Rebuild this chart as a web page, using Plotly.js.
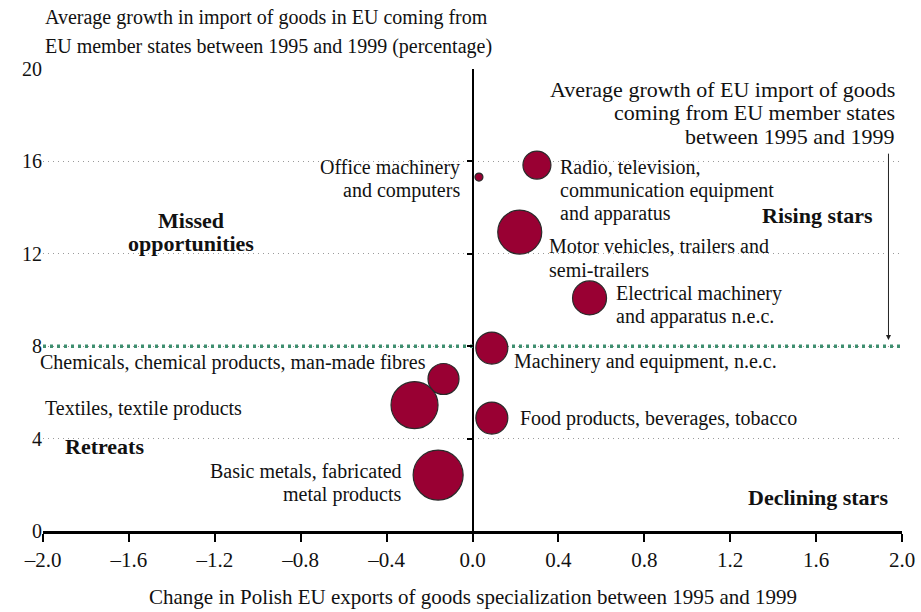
<!DOCTYPE html>
<html><head><meta charset="utf-8">
<script src="https://cdn.plot.ly/plotly-3.0.1.min.js"></script>
<style>html,body{margin:0;padding:0;background:#fff}#chart{width:921px;height:612px}</style>
</head><body><div id="chart"></div>
<script>
// Data
const sectors = ["Office machinery and computers","Radio, television, communication equipment and apparatus","Motor vehicles, trailers and semi-trailers","Electrical machinery and apparatus n.e.c.","Machinery and equipment, n.e.c.","Food products, beverages, tobacco","Chemicals, chemical products, man-made fibres","Textiles, textile products","Basic metals, fabricated metal products"];
const specChange = [0.03, 0.30, 0.22, 0.545, 0.09, 0.09, -0.135, -0.27, -0.16];
const importGrowth = [15.32, 15.84, 12.94, 10.09, 7.92, 4.89, 6.58, 5.45, 2.42];
const bubbleSize = [8, 28, 44, 34, 32, 32, 31, 47, 50];
const avgGrowth = 8;
const xTicks = [-2.0, -1.6, -1.2, -0.8, -0.4, 0.0, 0.4, 0.8, 1.2, 1.6, 2.0];
const yTicks = [0, 4, 8, 12, 16, 20];

const F = "Liberation Serif";
const FS = 20, LH = 23.5;
const fmt = v => (v < 0 ? "\u2013" : "") + Math.abs(v).toFixed(1);

const traces = [
  {x: [xTicks[0], xTicks[xTicks.length-1]], y: [avgGrowth, avgGrowth], mode: "lines",
   line: {color: "#3f8f70", width: 3.5, dash: "3px,4px"}, hoverinfo: "skip", showlegend: false},
  {x: specChange, y: importGrowth, text: sectors, mode: "markers",
   marker: {size: bubbleSize, sizemode: "diameter", color: "#990033", line: {color: "#2a2a2a", width: 1.2}, opacity: 1},
   showlegend: false, hoverinfo: "text"},
  {x: [0], y: [0], yaxis: "y2", mode: "markers", marker: {opacity: 0}, hoverinfo: "skip", showlegend: false}
];

const annotations = [];
function lab(lines, x, y, anchor, isBold, size) {
  const n = lines.length;
  lines.forEach((t, i) => {
    annotations.push({
      text: isBold ? "<b>" + t + "</b>" : t, x, y, xref: "x", yref: "y",
      showarrow: false, xanchor: anchor, yanchor: "middle", align: anchor,
      yshift: ((n - 1) / 2 - i) * LH,
      font: {family: F, size: size || (isBold ? 22 : FS), color: "#111"}
    });
  });
}

lab(["Office machinery", "and computers"], -0.047, 15.24, "right");
lab(["Radio, television,", "communication equipment", "and apparatus"], 0.396, 14.76, "left");
lab(["Motor vehicles, trailers and", "semi-trailers"], 0.345, 11.82, "left");
lab(["Electrical machinery", "and apparatus n.e.c."], 0.657, 9.78, "left");
lab(["Machinery and equipment, n.e.c."], 0.182, 7.32, "left");
lab(["Food products, beverages, tobacco"], 0.21, 4.85, "left");
lab(["Chemicals, chemical products, man-made fibres"], -0.205, 7.3, "right");
lab(["Textiles, textile products"], -2.0, 5.32, "left");
lab(["Basic metals, fabricated", "metal products"], -0.32, 2.08, "right");
lab(["Missed", "opportunities"], -1.313, 12.94, "center", true);
lab(["Rising stars"], 1.607, 13.64, "center", true);
lab(["Retreats"], -1.714, 3.64, "center", true);
lab(["Declining stars"], 1.611, 1.43, "center", true);
lab(["Average growth of EU import of goods", "coming from EU member states", "between 1995 and 1999"], 1.977, 18.1, "right", false, 22);
annotations.push({x: 1.937, y: 8.27, ax: 1.937, ay: 16.4, xref: "x", yref: "y", axref: "x", ayref: "y", text: "",
   showarrow: true, arrowhead: 2, arrowsize: 1, arrowwidth: 1, arrowcolor: "#222"});
// axis titles
annotations.push({text: "Average growth in import of goods in EU coming from", xref: "paper", yref: "paper", x: 0, y: 1,
  xanchor: "left", yanchor: "middle", yshift: 52, showarrow: false, font: {family: F, size: FS, color: "#111"}});
annotations.push({text: "EU member states between 1995 and 1999 (percentage)", xref: "paper", yref: "paper", x: 0, y: 1,
  xanchor: "left", yanchor: "middle", yshift: 23, showarrow: false, font: {family: F, size: FS, color: "#111"}});
annotations.push({text: "Change in Polish EU exports of goods specialization between 1995 and 1999", xref: "paper", yref: "paper",
  x: 0.5, y: 0, xanchor: "center", yanchor: "middle", yshift: -66, showarrow: false, font: {family: F, size: 21, color: "#111"}});

const layout = {
  width: 921, height: 612,
  margin: {l: 43, r: 19, t: 69, b: 81},
  paper_bgcolor: "#fff", plot_bgcolor: "#fff",
  xaxis: {range: [-2, 2], tickvals: xTicks, ticktext: xTicks.map(fmt), showgrid: false,
    zeroline: true, zerolinecolor: "#000", zerolinewidth: 2,
    showline: true, linecolor: "#000", linewidth: 3, ticks: "outside", ticklen: 8, tickwidth: 2, tickcolor: "#000",
    tickfont: {family: F, size: 21, color: "#111"}, fixedrange: true},
  yaxis: {range: [0, 20], tickvals: yTicks, showgrid: true, gridcolor: "#9a9a9a", gridwidth: 1, griddash: "1px,4px",
    zeroline: false, showline: false, ticks: "", tickfont: {family: F, size: 20, color: "#111"}, fixedrange: true},
  yaxis2: {range: [0, 20], tickvals: yTicks.slice(1, 5), overlaying: "y", anchor: "free", position: 0.5, side: "left",
    showgrid: false, zeroline: false, showline: false, ticks: "outside", ticklen: 6, tickwidth: 2, tickcolor: "#000",
    showticklabels: false, fixedrange: true},
  annotations: annotations,
  showlegend: false
};

Plotly.newPlot("chart", traces, layout, {displayModeBar: false, staticPlot: true});
</script></body></html>
